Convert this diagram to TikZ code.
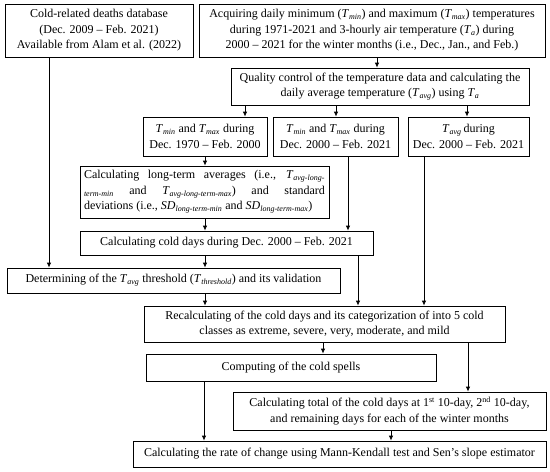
\documentclass[tikz,border=0pt]{standalone}
\usepackage{fontspec}
\setmainfont{Liberation Serif}
\usepackage{tikz}
\usetikzlibrary{arrows.meta}

\newcommand{\tv}[2]{\textit{#1}\textsubscript{\textit{#2}}}

\begin{document}
\begin{tikzpicture}[x=1pt, y=-1pt, font=\fontsize{12}{15.5}\selectfont,
  box/.style={draw, line width=0.8pt, inner sep=2pt, align=center},
  arr/.style={-{Latex[length=5pt,width=4.5pt]}, line width=0.8pt}]
  \useasboundingbox (0,0) rectangle (550,472);

  \node[box, minimum width=188pt, minimum height=53pt] (deaths) at (99,30.5)
    {Cold-related deaths database\\(Dec. 2009 -- Feb. 2021)\\Available from Alam et al. (2022)};
  \node[box, minimum width=346pt, minimum height=53pt] (acquire) at (372,30.5)
    {Acquiring daily minimum (\tv{T}{min}) and maximum (\tv{T}{max}) temperatures\\
     during 1971-2021 and 3-hourly air temperature (\tv{T}{a}) during\\
     2000 -- 2021 for the winter months (i.e., Dec., Jan., and Feb.)};
  \node[box, minimum width=298pt, minimum height=37pt] (quality) at (380,86.5)
    {Quality control of the temperature data and calculating the\\
     daily average temperature (\tv{T}{avg}) using \tv{T}{a}};

  \node[box, minimum width=124pt, minimum height=39pt] (old) at (205,136.5)
    {\tv{T}{min} and \tv{T}{max} during\\Dec. 1970 -- Feb. 2000};
  \node[box, minimum width=125pt, minimum height=39pt] (new) at (335.5,136.5)
    {\tv{T}{min} and \tv{T}{max} during\\Dec. 2000 -- Feb. 2021};
  \node[box, minimum width=121pt, minimum height=39pt] (avg) at (468.5,136.5)
    {\tv{T}{avg}\,during\\Dec. 2000 -- Feb. 2021};

  \node[box, minimum width=249pt, minimum height=52pt, text width=241pt,
        align=justify] (longterm) at (204.5,192)
    {Calculating long-term averages (i.e., \tv{T}{avg-long-}\linebreak
     \textsubscript{\textit{term-min}} and \tv{T}{avg-long-term-max}) and standard\linebreak
     deviations (i.e., \tv{SD}{long-term-min} and \tv{SD}{long-term-max})};
  \node[box, minimum width=293pt, minimum height=24pt] (colddays) at (226.5,243)
    {Calculating cold days during Dec. 2000 -- Feb. 2021};
  \node[box, minimum width=333pt, minimum height=25pt] (thresh) at (173.5,280.5)
    {Determining of the \tv{T}{avg} threshold (\tv{T}{threshold}) and its validation};

  \node[box, minimum width=361pt, minimum height=36pt] (recalc) at (324.5,324)
    {Recalculating of the cold days and its categorization of into 5 cold\\
     classes as extreme, severe, very, moderate, and mild};
  \node[box, minimum width=290pt, minimum height=27pt] (spells) at (291,367.5)
    {Computing of the cold spells};
  \node[box, minimum width=313pt, minimum height=38pt] (total) at (389.5,411)
    {Calculating total of the cold days at 1\textsuperscript{st} 10-day, 2\textsuperscript{nd} 10-day,\\
     and remaining days for each of the winter months};
  \node[box, minimum width=413pt, minimum height=26pt] (rate) at (339.5,454)
    {Calculating the rate of change using Mann-Kendall test and Sen's slope estimator};

  \def\flow#1#2#3{
    \draw[arr] (#1.south -| #3,0) -- (#2.north -| #3,0);
  }

  \flow{acquire}{quality}{377}
  \flow{quality}{old}{245}
  \flow{quality}{new}{336}
  \flow{quality}{avg}{467}
  \flow{old}{longterm}{205}
  \flow{longterm}{colddays}{205}
  \flow{new}{colddays}{348}
  \flow{deaths}{thresh}{49}
  \flow{colddays}{thresh}{205}
  \flow{thresh}{recalc}{205}
  \flow{colddays}{recalc}{358}
  \flow{avg}{recalc}{424}
  \flow{recalc}{spells}{323}
  \flow{recalc}{total}{468}
  \flow{spells}{rate}{204}
  \flow{total}{rate}{391}
\end{tikzpicture}
\end{document}
